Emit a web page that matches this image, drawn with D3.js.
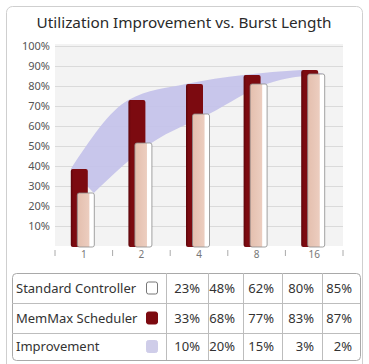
<!DOCTYPE html>
<html>
<head>
<meta charset="utf-8">
<script src="https://cdn.jsdelivr.net/npm/d3@7"></script>
<style>
  body { margin: 0; background: #fff; font-family: 'Noto Sans', sans-serif; }
  #graf { width: 369px; height: 364px; }
</style>
</head>
<body>
<div id="graf"></div>
<script>
// I. Datos
categories = ['1', '2', '4', '8', '16']
// alturas de las barras tal como se ven en la gráfica
memmaxBar = [38.5, 73, 81, 85.5, 88]
standardBar = [26.5, 51.5, 66, 81, 86]
// valores de la tabla
tableRows = ['Standard Controller', 'MemMax Scheduler', 'Improvement']
standardPct = [23, 48, 62, 80, 85]
memmaxPct = [33, 68, 77, 83, 87]
improvementPct = [10, 20, 15, 3, 2]
yTicks = [10, 20, 30, 40, 50, 60, 70, 80, 90, 100]

// II. Configuración
ancho_total = 369
alto_total = 364
plot = { left: 55, right: 343, top: 44, bottom: 246 }

dark = '#7c0a10'
lavender = '#c5c3ea'

svg = d3.select('#graf').append('svg')
        .attr('width', ancho_total)
        .attr('height', alto_total)

defs = svg.append('defs')
grad = defs.append('linearGradient').attr('id', 'light')
grad.append('stop').attr('offset', '0%').attr('stop-color', '#e4bfae')
grad.append('stop').attr('offset', '68%').attr('stop-color', '#eccdbf')
grad.append('stop').attr('offset', '74%').attr('stop-color', '#ffffff')
grad.append('stop').attr('offset', '100%').attr('stop-color', '#ffffff')

gradD = defs.append('linearGradient').attr('id', 'dark')
gradD.append('stop').attr('offset', '0%').attr('stop-color', '#5c050a')
gradD.append('stop').attr('offset', '15%').attr('stop-color', dark)
gradD.append('stop').attr('offset', '100%').attr('stop-color', dark)

// panel exterior
svg.append('rect')
   .attr('x', 6.5).attr('y', 6.5)
   .attr('width', 356).attr('height', 370)
   .attr('rx', 6)
   .style('fill', '#fff')
   .style('stroke', '#cfcfcf')

svg.append('text')
   .attr('x', 184).attr('y', 28)
   .attr('text-anchor', 'middle')
   .style('font-size', '15.3px')
   .style('fill', '#2a2a2a')
   .text('Utilization Improvement vs. Burst Length')

// III. Escaladores
x = d3.scaleBand()
      .domain(categories)
      .range([plot.left, plot.right])

y = d3.scaleLinear()
      .domain([0, 100])
      .range([plot.bottom, plot.bottom - 200])

// fondo del área de la gráfica
svg.append('rect')
   .attr('x', plot.left).attr('y', plot.top)
   .attr('width', plot.right - plot.left)
   .attr('height', plot.bottom - plot.top)
   .style('fill', '#f3f3f3')

// líneas de la cuadrícula + eje Y
yAxisGroup = svg.append('g')
                .attr('transform', `translate(${ plot.left }, 0)`)
yAxisGroup.call(d3.axisLeft(y)
                  .tickValues(yTicks)
                  .tickSize(-(plot.right - plot.left))
                  .tickPadding(5)
                  .tickFormat(d => d + '%'))
yAxisGroup.select('.domain').remove()
yAxisGroup.selectAll('line').style('stroke', '#dadada')
yAxisGroup.selectAll('text')
          .style('font-size', '11px')
          .style('font-family', "'Noto Sans', sans-serif")
          .style('fill', '#555')

// eje X con marcas entre categorías
xAxisGroup = svg.append('g')
                .attr('transform', `translate(0, ${ plot.bottom + 2 })`)
xAxisGroup.call(d3.axisBottom(x).tickSize(0).tickPadding(3))
xAxisGroup.select('.domain').remove()
xAxisGroup.selectAll('text')
          .style('font-size', '10px')
          .style('font-family', "'Noto Sans', sans-serif")
          .style('fill', '#777')
xAxisGroup.selectAll('.sep')
          .data(categories.concat(['fin']))
          .enter().append('line')
          .attr('x1', (d, i) => plot.left + i * x.step())
          .attr('x2', (d, i) => plot.left + i * x.step())
          .attr('y1', 2).attr('y2', 8)
          .style('stroke', '#aaa')

cx = d => x(d) + x.bandwidth() / 2

// IV. Banda de mejora
band = categories.map((c, i) => ({ c: c, hi: memmaxBar[i], lo: standardBar[i] }))
area = d3.area()
         .x0(d => cx(d.c) + 10).y0(d => y(d.lo))
         .x1(d => cx(d.c) - 13).y1(d => y(d.hi))
         .curve(d3.curveMonotoneX)
svg.append('path')
   .datum(band)
   .attr('d', area)
   .style('fill', lavender)
   .style('opacity', 0.95)

// V. Barras
svg.selectAll('.memmax')
   .data(categories)
   .enter().append('rect')
   .attr('class', 'memmax')
   .attr('x', d => cx(d) - 13)
   .attr('y', (d, i) => y(memmaxBar[i]))
   .attr('width', 17)
   .attr('height', (d, i) => plot.bottom + 1 - y(memmaxBar[i]))
   .attr('rx', 2)
   .style('fill', 'url(#dark)')

svg.selectAll('.standard')
   .data(categories)
   .enter().append('rect')
   .attr('class', 'standard')
   .attr('x', d => cx(d) - 6.5)
   .attr('y', (d, i) => y(standardBar[i]))
   .attr('width', 17)
   .attr('height', (d, i) => plot.bottom + 1 - y(standardBar[i]))
   .attr('rx', 2)
   .style('fill', 'url(#light)')
   .style('stroke', '#8a8a8a')
   .style('stroke-width', 0.8)

// VI. Tabla
tabla = { left: 12, right: 360, top: 273, bottom: 360 }
colEdges = [166, 208, 243, 282, 322, 360]
rowEdges = [273, 303, 333, 360]
rowValues = [standardPct, memmaxPct, improvementPct]
swatch = [
  { fill: '#fff', stroke: '#777' },
  { fill: dark, stroke: dark },
  { fill: '#cfcde9', stroke: '#cfcde9' }
]

tg = svg.append('g')
tg.append('rect')
  .attr('x', tabla.left + 0.5).attr('y', tabla.top + 0.5)
  .attr('width', tabla.right - tabla.left)
  .attr('height', tabla.bottom - tabla.top)
  .attr('rx', 4)
  .style('fill', '#fff')
  .style('stroke', '#a9a9a9')

tg.selectAll('.hline')
  .data(rowEdges.slice(1, -1))
  .enter().append('line')
  .attr('x1', tabla.left).attr('x2', tabla.right)
  .attr('y1', d => d + 0.5).attr('y2', d => d + 0.5)
  .style('stroke', '#bdbdbd')

tg.selectAll('.vline')
  .data(colEdges.slice(0, -1))
  .enter().append('line')
  .attr('x1', d => d + 0.5).attr('x2', d => d + 0.5)
  .attr('y1', tabla.top).attr('y2', tabla.bottom)
  .style('stroke', '#bdbdbd')

tableRows.forEach((name, r) => {
  mid = (rowEdges[r] + rowEdges[r + 1]) / 2
  tg.append('text')
    .attr('x', 16).attr('y', mid)
    .attr('dy', '0.35em')
    .style('font-size', '13px')
    .style('fill', '#333')
    .text(name)
  tg.append('rect')
    .attr('x', 146.5).attr('y', mid - 6)
    .attr('width', 11).attr('height', 12)
    .attr('rx', 2)
    .style('fill', swatch[r].fill)
    .style('stroke', swatch[r].stroke)
  tg.selectAll('.v' + r)
    .data(rowValues[r])
    .enter().append('text')
    .attr('x', (d, i) => colEdges[i + 1] - 8)
    .attr('y', mid)
    .attr('dy', '0.35em')
    .attr('text-anchor', 'end')
    .style('font-size', '13px')
    .style('fill', '#333')
    .text(d => d + '%')
})
</script>
</body>
</html>
